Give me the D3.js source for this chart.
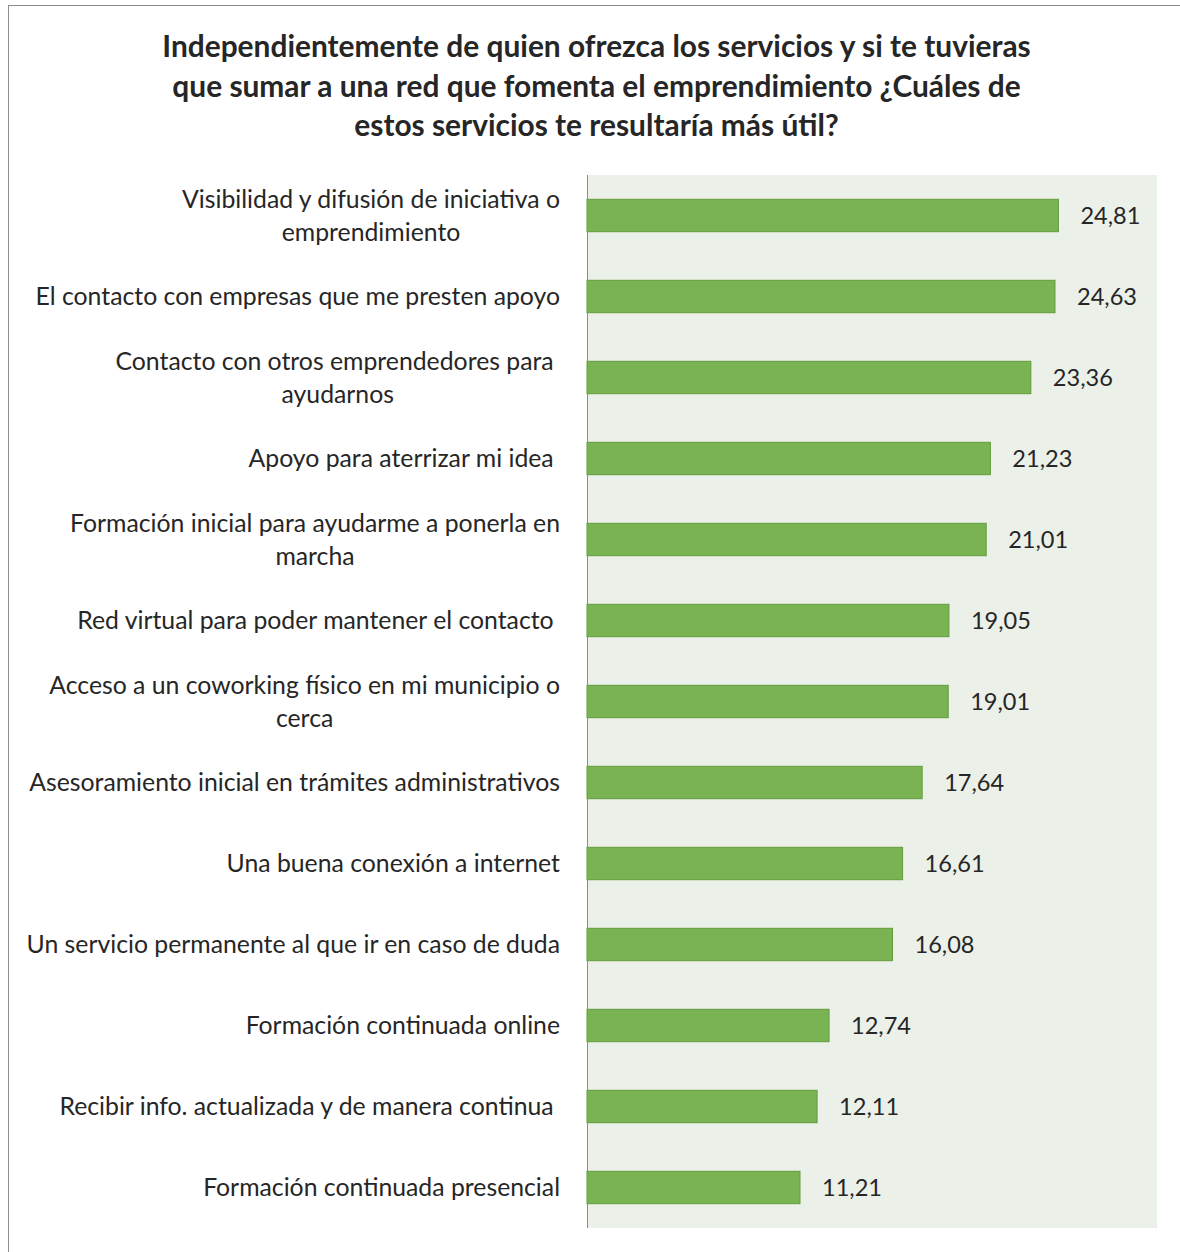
<!DOCTYPE html>
<html>
<head>
<meta charset="utf-8">
<script src="https://cdn.jsdelivr.net/npm/d3@7"></script>
<style>
  body { margin: 0; background: #ffffff; }
  svg { display: block; }
  text { font-family: Lato, "Open Sans", sans-serif; fill: #262626; white-space: pre; }
</style>
</head>
<body>
<svg id="chart" width="1180" height="1252"></svg>
<script>
// ---------- DATA ----------
const titleLines = [
  "Independientemente de quien ofrezca los servicios y si te tuvieras",
  "que sumar a una red que fomenta el emprendimiento ¿Cuáles de",
  "estos servicios te resultaría más útil?"
];
const categories = [
  "Visibilidad y difusión de iniciativa o\nemprendimiento",
  "El contacto con empresas que me presten apoyo",
  "Contacto con otros emprendedores para \nayudarnos",
  "Apoyo para aterrizar mi idea ",
  "Formación inicial para ayudarme a ponerla en\nmarcha",
  "Red virtual para poder mantener el contacto ",
  "Acceso a un coworking físico en mi municipio o\ncerca",
  "Asesoramiento inicial en trámites administrativos",
  "Una buena conexión a internet",
  "Un servicio permanente al que ir en caso de duda",
  "Formación continuada online",
  "Recibir info. actualizada y de manera continua ",
  "Formación continuada presencial"
];
const values = [24.81, 24.63, 23.36, 21.23, 21.01, 19.05, 19.01, 17.64, 16.61, 16.08, 12.74, 12.11, 11.21];
const xDomain = [0, 30];

// ---------- LAYOUT ----------
const svg = d3.select("#chart");
const plot = { left: 587, right: 1157, top: 175, bottom: 1228 };

const x = d3.scaleLinear().domain(xDomain).range([plot.left, plot.right]);
const y = d3.scaleBand().domain(categories).range([plot.top, plot.bottom]).paddingInner(0.6).paddingOuter(0.3);

const locale = d3.formatLocale({ decimal: ",", thousands: ".", grouping: [3], currency: ["", "€"] });
const fmt = locale.format(".2f");

// measuring helper
const tmp = svg.append("text").attr("x", -1000).attr("y", -1000);
function measure(str, size, weight) {
  tmp.attr("font-size", size).attr("font-weight", weight || "normal").text(str);
  return tmp.node().getComputedTextLength();
}
const labelSize = 24 * 531 / measure("Asesoramiento inicial en trámites administrativos", 24);
const valueSize = 24 * 60 / measure("24,81", 24);
const titleSize = 27 * 869 / measure(titleLines[0], 27, "bold");
tmp.remove();

// outer border
svg.append("rect")
  .attr("x", 8.5).attr("y", 5.5).attr("width", 1300).attr("height", 1400)
  .attr("fill", "#ffffff").attr("stroke", "#8c8c8c").attr("stroke-width", 1);

// title
svg.append("g").selectAll("text").data(titleLines).join("text")
  .attr("x", 596.5)
  .attr("y", (d, i) => 57 + i * 39.5)
  .attr("text-anchor", "middle")
  .attr("font-weight", "bold")
  .attr("font-size", titleSize)
  .attr("fill", "#0d0d0d")
  .text(d => d);

// plot background
svg.append("rect")
  .attr("x", plot.left).attr("y", plot.top)
  .attr("width", plot.right - plot.left).attr("height", plot.bottom - plot.top)
  .attr("fill", "#ebf0e9");

// bars
svg.append("g").selectAll("rect").data(values).join("rect")
  .attr("x", x(0))
  .attr("y", (d, i) => y(categories[i]))
  .attr("width", d => x(d) - x(0))
  .attr("height", y.bandwidth())
  .attr("fill", "#7ab352")
  .attr("stroke", "#629c3d")
  .attr("stroke-width", 1);

// value labels
svg.append("g").selectAll("text").data(values).join("text")
  .attr("x", d => x(d) + 22)
  .attr("y", (d, i) => y(categories[i]) + y.bandwidth() / 2)
  .attr("dy", "0.35em")
  .attr("font-size", valueSize)
  .text(d => fmt(d));

// category axis line
svg.append("line")
  .attr("x1", plot.left + 0.5).attr("x2", plot.left + 0.5)
  .attr("y1", plot.top).attr("y2", plot.bottom)
  .attr("stroke", "#8c8c8c").attr("stroke-width", 1);

// category labels (right-aligned block, lines centred within it)
const labelRight = 560;
const lineGap = 33;
const lg = svg.append("g");
categories.forEach((c, i) => {
  const lines = c.split("\n");
  const widths = lines.map(l => {
    const t = lg.append("text").attr("font-size", labelSize).text(l);
    const w = t.node().getComputedTextLength();
    t.remove();
    return w;
  });
  const blockW = d3.max(widths);
  const cx = labelRight - blockW / 2;
  const cy = y(c) + y.bandwidth() / 2;
  lines.forEach((l, j) => {
    lg.append("text")
      .attr("x", cx)
      .attr("y", cy + (j - (lines.length - 1) / 2) * lineGap)
      .attr("dy", "0.35em")
      .attr("text-anchor", "middle")
      .attr("font-size", labelSize)
      .text(l);
  });
});
</script>
</body>
</html>
